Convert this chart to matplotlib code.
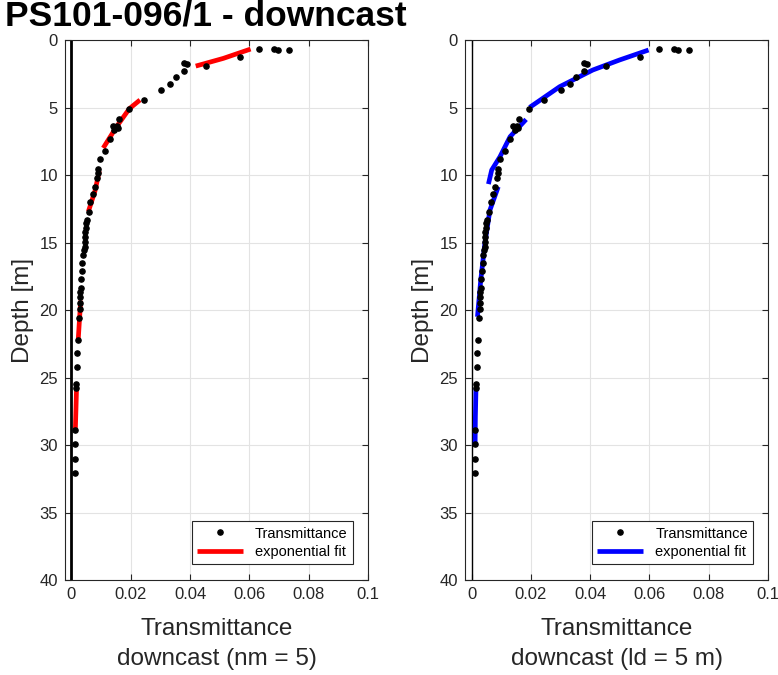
import numpy as np
import matplotlib.pyplot as plt

plt.rcParams['font.family'] = ['Liberation Sans', 'DejaVu Sans']

# measured transmittance profile (downcast)
depth = [0.69, 0.69, 0.72, 0.74, 1.23, 1.73, 1.78, 1.93, 2.27, 2.77, 3.26, 3.68,
         4.47, 5.09, 5.88, 6.37, 6.37, 6.54, 6.67, 7.36, 8.20, 8.84, 9.53, 9.88,
         10.24, 10.86, 11.40, 11.98, 12.72, 13.33, 13.58, 13.95, 14.20, 14.57,
         14.94, 15.30, 15.56, 15.90, 16.50, 17.10, 17.70, 18.35, 18.70, 19.00,
         19.46, 19.95, 20.60, 22.20, 23.20, 24.20, 25.50, 25.80, 28.90, 29.95,
         31.05, 32.05]
trans = [0.0633, 0.0683, 0.0695, 0.0733, 0.0568, 0.0378, 0.0390, 0.0453, 0.0378,
         0.0354, 0.0332, 0.0303, 0.0243, 0.0194, 0.0160, 0.0140, 0.0153, 0.0156,
         0.0145, 0.0131, 0.0113, 0.0095, 0.0090, 0.0089, 0.0087, 0.0080, 0.0072,
         0.0064, 0.0058, 0.0052, 0.0050, 0.0048, 0.0047, 0.0046, 0.0045, 0.0044,
         0.0042, 0.0039, 0.0037, 0.0035, 0.0032, 0.0031, 0.0030, 0.0030, 0.0029,
         0.0028, 0.0025, 0.0021, 0.0019, 0.0019, 0.0016, 0.0015, 0.0012, 0.0013,
         0.0011, 0.0012]

# exponential fits, nm = 5
fit_nm = [
    ([0.0419, 0.0512, 0.0604], [1.93, 1.36, 0.67]),
    ([0.0107, 0.0152, 0.0195, 0.0231], [8.0, 6.42, 5.09, 4.44]),
    ([0.0094, 0.0079, 0.0057], [9.7, 11.2, 12.7]),
    ([0.0031, 0.0027, 0.0023], [19.3, 20.7, 22.1]),
    ([0.0017, 0.0015, 0.0013], [25.8, 27.4, 28.9]),
]
# exponential fits, ld = 5 m
fit_ld = [
    ([0.0597, 0.0499, 0.0409, 0.0297, 0.0196], [0.74, 1.48, 2.22, 3.46, 4.99]),
    ([0.0184, 0.0130, 0.0096, 0.0068, 0.0057], [5.88, 7.16, 8.64, 9.63, 10.67]),
    ([0.0090, 0.0062, 0.0045, 0.0031, 0.0020], [10.87, 12.6, 15.06, 17.8, 20.5]),
    ([0.0015, 0.0013, 0.0012], [25.8, 27.9, 30.0]),
]

fig = plt.figure(figsize=(7.78, 6.75), dpi=100)
ax1 = fig.add_axes([0.0835, 0.1407, 0.3895, 0.80])
ax2 = fig.add_axes([0.5977, 0.1407, 0.3895, 0.80])

panels = [(ax1, fit_nm, 'red', 'downcast (nm = 5)', 2.0),
          (ax2, fit_ld, 'blue', 'downcast (ld = 5 m)', 1.0)]

gray = '#262626'
for ax, fits, col, lab, zlw in panels:
    ax.axvline(0, color='black', lw=zlw, zorder=2)
    for i, (fx, fy) in enumerate(fits):
        ax.plot(fx, fy, color=col, lw=3.4, solid_capstyle='butt', zorder=3,
                label='exponential fit' if i == 0 else None)
    ax.plot(trans, depth, 'k.', ms=7.5, zorder=4, label='Transmittance')
    ax.set_xlim(-0.0022, 0.1)
    ax.set_ylim(40, 0)
    ax.set_xticks([0, 0.02, 0.04, 0.06, 0.08, 0.1])
    ax.set_xticklabels(['0', '0.02', '0.04', '0.06', '0.08', '0.1'])
    ax.set_yticks(range(0, 41, 5))
    ax.grid(True, color='#e3e3e3', lw=0.8)
    ax.set_axisbelow(True)
    ax.tick_params(direction='in', top=True, right=True, labelsize=12,
                   color=gray, labelcolor=gray, length=4, pad=5)
    for s in ax.spines.values():
        s.set_color(gray)
        s.set_linewidth(0.8)
    ax.set_xlabel('Transmittance\n' + lab, fontsize=17.5, linespacing=1.45,
                  color=gray, labelpad=11.5)
    ax.set_ylabel('Depth [m]', fontsize=17.5, color=gray, labelpad=4)
    h, l = ax.get_legend_handles_labels()
    leg = ax.legend(h[::-1], l[::-1], loc='lower right', fontsize=10.5,
                    fancybox=False, framealpha=1, edgecolor=gray,
                    handlelength=3.2, borderpad=0.35, labelspacing=0.3,
                    borderaxespad=0, bbox_to_anchor=(0.95, 0.0296))
    leg.get_frame().set_linewidth(0.8)

fig.text(0.006, 0.962, 'PS101-096/1 - downcast', fontsize=25.5, fontweight='bold',
         ha='left', va='baseline')

fig.savefig('out.png', dpi=100)
